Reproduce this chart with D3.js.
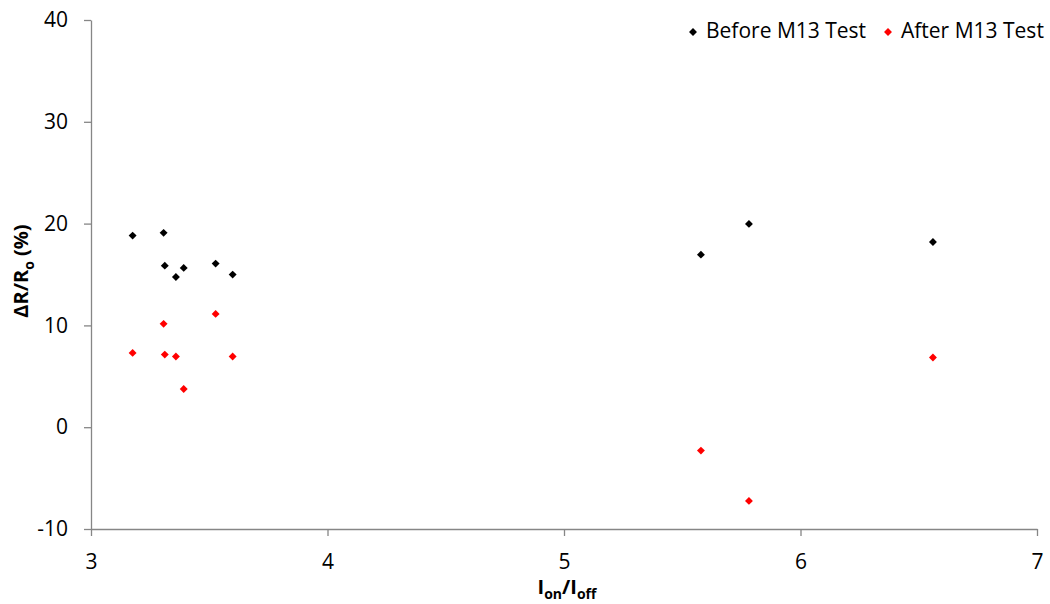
<!DOCTYPE html>
<html>
<head>
<meta charset="utf-8">
<script src="https://cdn.jsdelivr.net/npm/d3@7"></script>
<style>
  body { margin: 0; background: #fff; }
  text { font-family: "Open Sans", "Liberation Sans", sans-serif; fill: #000; }
</style>
</head>
<body>
<div id="chart"></div>
<script>
var ionIoff = [3.176, 3.307, 3.312, 3.359, 3.392, 3.527, 3.599, 5.579, 5.782, 6.560];
var beforeTest = [18.82, 19.09, 15.87, 14.76, 15.65, 16.07, 14.99, 16.95, 19.97, 18.20];
var afterTest = [7.30, 10.15, 7.13, 6.94, 3.76, 11.13, 6.94, -2.30, -7.24, 6.84];
var xTicks = [3, 4, 5, 6, 7];
var yTicks = [-10, 0, 10, 20, 30, 40];
var seriesNames = ["Before M13 Test", "After M13 Test"];
var seriesColors = ["#000000", "#ff0000"];

var width = 1050,
    height = 604,
    margin = {top: 20, right: 13, bottom: 75, left: 91};

var svg = d3.select("#chart")
  .append("svg")
  .attr("width", width)
  .attr("height", height);

var g = svg.append("g")
  .attr("transform", `translate(${margin.left},${margin.top})`);

var innerW = width - margin.left - margin.right,
    innerH = height - margin.top - margin.bottom;

var xScale = d3.scaleLinear().domain([3, 7]).range([0, innerW]);
var yScale = d3.scaleLinear().domain([-10, 40]).range([innerH, 0]);

var fmt = d => String(d);  // plain hyphen minus, no decimals

var xAxis = d3.axisBottom(xScale).tickValues(xTicks).tickFormat(fmt)
  .tickSize(7).tickSizeOuter(0).tickPadding(18);
var yAxis = d3.axisLeft(yScale).tickValues(yTicks).tickFormat(fmt)
  .tickSize(7).tickSizeOuter(0).tickPadding(16);

var xg = g.append("g")
  .attr("class", "x axis")
  .attr("transform", `translate(0,${innerH})`)
  .call(xAxis);

var yg = g.append("g")
  .attr("class", "y axis")
  .call(yAxis);

[xg, yg].forEach(a => {
  a.selectAll("path, line").attr("stroke", "#868686").attr("stroke-width", 1.3);
  a.selectAll("text").style("font-size", "21px").attr("fill", "#000");
});

var diamond = d3.symbol().type(d3.symbolDiamond2).size(40);

// Before / after points
var series = [beforeTest, afterTest];
series.forEach((vals, s) => {
  g.selectAll(".pt" + s)
    .data(vals)
    .enter()
    .append("path")
    .attr("class", "pt" + s)
    .attr("d", diamond)
    .attr("transform", (d, i) => `translate(${xScale(ionIoff[i])},${yScale(d)})`)
    .attr("fill", seriesColors[s]);
});

// legend
var legendX = [693, 888];
seriesNames.forEach((name, s) => {
  svg.append("path")
    .attr("d", diamond)
    .attr("transform", `translate(${legendX[s]},32)`)
    .attr("fill", seriesColors[s]);
  svg.append("text")
    .attr("x", legendX[s] + 13)
    .attr("y", 31)
    .attr("dy", "0.35em")
    .style("font-size", "21px")
    .text(name);
});

// axis titles
var xTitle = svg.append("text")
  .attr("x", 567)
  .attr("y", 594)
  .attr("text-anchor", "middle")
  .style("font-size", "20px")
  .style("font-weight", "bold");
xTitle.append("tspan").text("I");
xTitle.append("tspan").attr("dy", 5).style("font-size", "14px").text("on");
xTitle.append("tspan").attr("dy", -5).text("/I");
xTitle.append("tspan").attr("dy", 5).style("font-size", "14px").text("off");

var yTitle = svg.append("text")
  .attr("transform", `translate(28,271) rotate(-90)`)
  .attr("text-anchor", "middle")
  .style("font-size", "20px")
  .style("font-weight", "bold");
yTitle.append("tspan").text("ΔR/R");
yTitle.append("tspan").attr("dy", 6).style("font-size", "14px").text("o");
yTitle.append("tspan").attr("dy", -6).text(" (%)");
</script>
</body>
</html>
